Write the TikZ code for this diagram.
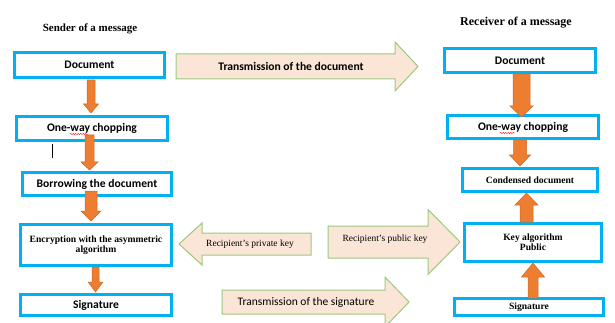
\documentclass[tikz,border=0pt]{standalone}
\usepackage{fontspec}
\setmainfont{Liberation Serif}
\newfontfamily\carlitofont{Carlito}
\usetikzlibrary{decorations.pathmorphing}
\definecolor{cyanb}{HTML}{00B0F0}
\definecolor{oran}{HTML}{ED7D31}
\definecolor{oranD}{HTML}{C86A2C}
\definecolor{peach}{HTML}{FBE5D6}
\definecolor{greenb}{HTML}{9CC97D}
\tikzset{
  bx/.style={draw=cyanb, line width=2.6pt, fill=white, inner sep=0pt, align=center},
  sansb/.style={font=\carlitofont\fontsize{11.6}{13}\selectfont\bfseries},
  sansr/.style={font=\carlitofont\fontsize{11.5}{13}\selectfont},
  serb/.style={font=\fontsize{9.6}{11}\selectfont\bfseries},
  serr/.style={font=\fontsize{9.5}{11}\selectfont},
  oarr/.style={fill=oran, draw=oranD, line width=0.5pt},
  parr/.style={fill=peach, draw=greenb, line width=1pt, line join=miter},
}
% vertical block arrow: x, ystart, ybase, ytip, shaft half, head half
\newcommand\varr[6]{\path[oarr] (#1-#5,#2) -- (#1+#5,#2) -- (#1+#5,#3) -- (#1+#6,#3) -- (#1,#4) -- (#1-#6,#3) -- (#1-#5,#3) -- cycle;}
% horizontal block arrow: xstart, xbase, xtip, y, body half, head half
\newcommand\harr[6]{\path[parr] (#1,#4-#5) -- (#2,#4-#5) -- (#2,#4-#6) -- (#3,#4) -- (#2,#4+#6) -- (#2,#4+#5) -- (#1,#4+#5) -- cycle;}
\begin{document}
\begin{tikzpicture}[x=1pt,y=-1pt]
\useasboundingbox (0,0) rectangle (615,323);
\begin{scope}
\clip (0,0) rectangle (615,323);
% titles
\node[font=\fontsize{11}{13}\selectfont\bfseries] (ts) at (90,29) {Sender of a message};
\node[font=\fontsize{12}{14}\selectfont\bfseries] (tr) at (516,23) {Receiver of a message};
% left boxes
\node[bx,sansb,minimum width=150.4pt,minimum height=25.4pt] (dl) at (89.5,65) {Document};
\node[bx,sansb,minimum width=151.4pt,minimum height=24.4pt] (ol) at (92,128.5) {One-way chopping};
\node[bx,sansb,minimum width=149.4pt,minimum height=23.4pt] (bl) at (97,184) {Borrowing the document};
\node[bx,serb,minimum width=151.4pt,minimum height=41.4pt] (el) at (96,245) {Encryption with the asymmetric\\[-1pt]algorithm};
\node[bx,sansb,minimum width=151.4pt,minimum height=21.4pt] (sl) at (96,305) {Signature};
% right boxes
\node[bx,sansb,minimum width=151.4pt,minimum height=24.4pt] (dr) at (520,60.5) {Document};
\node[bx,sansb,minimum width=151.4pt,minimum height=23.4pt] (or) at (523,127) {One-way chopping};
\node[bx,serb,minimum width=135.4pt,minimum height=23.4pt] (cr) at (530,180) {Condensed document};
\node[bx,serb,minimum width=137.4pt,minimum height=38.4pt] (kr) at (533,242.5) {Key algorithm\\[-1pt]Public};
\node[bx,serb,minimum width=149.4pt,minimum height=17.4pt] (sr) at (529,307) {Signature};
% spell-check marks and cursor
\draw[red, line width=0.45pt, decorate, decoration={snake, amplitude=0.6pt, segment length=2.5pt}] (70,134) -- (89,134);
\draw[red, line width=0.45pt, decorate, decoration={snake, amplitude=0.6pt, segment length=2.5pt}] (500,133) -- (515,133);
\draw[black, line width=0.8pt] (52,144) -- (52,158);
% orange block arrows
\varr{91}{80}{104}{113}{4}{7.5}
\varr{89.5}{135}{162}{170}{4.5}{8.5}
\varr{91}{191}{211}{221}{6}{10}
\varr{95.5}{267}{282}{292}{3.5}{7.5}
\varr{521.5}{74}{106}{117}{8.5}{11.5}
\varr{520}{140}{155}{166}{6.5}{10.5}
\varr{526.5}{222}{205}{193}{6.5}{11.5}
\varr{533}{298}{277}{263}{5}{11.5}
% peach block arrows
\harr{176}{395}{418}{66.5}{12.5}{24.5}
\harr{311}{202}{179}{244}{11}{21}
\harr{328}{428}{460}{242}{16}{32.5}
\harr{222}{385}{409}{302}{12}{25}
\node[sansb] (tdoc) at (291,66) {Transmission of the document};
\node[serr] (tpriv) at (250,244) {Recipient's private key};
\node[serr] (tpub) at (385,239) {Recipient's public key};
\node[sansr] (tsig) at (306,302) {Transmission of the signature};
\end{scope}
\end{tikzpicture}
\end{document}
